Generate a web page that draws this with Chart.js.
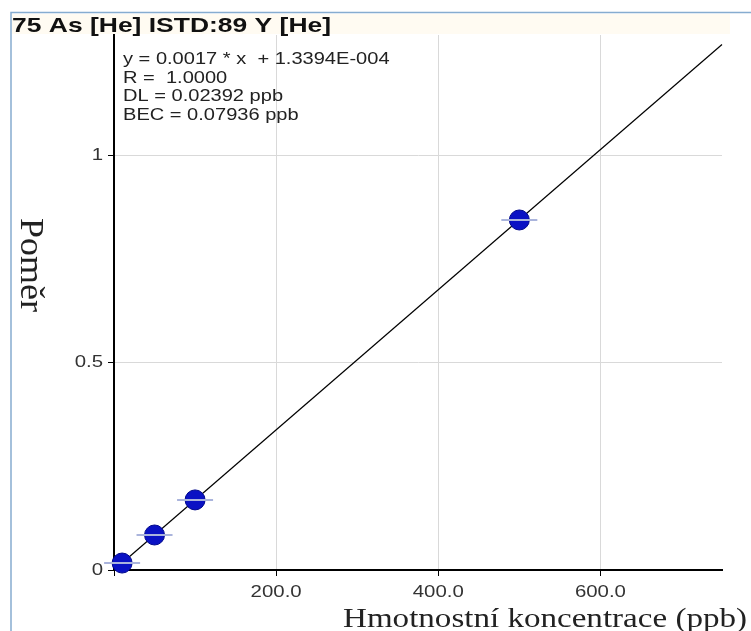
<!DOCTYPE html>
<html>
<head>
<meta charset="utf-8">
<script src="https://cdn.jsdelivr.net/npm/chart.js@4.4.1/dist/chart.umd.min.js"></script>
<style>
  html, body { margin: 0; padding: 0; background: #fff; }
  canvas { display: block; }
</style>
</head>
<body>
<canvas id="calib" width="751" height="631"></canvas>
<script>
// Calibration curve: 75 As, internal standard 89 Y (He mode)
const titleText = '75 As [He] ISTD:89 Y [He]';
const fitLines = [
  'y = 0.0017 * x  + 1.3394E-004',
  'R =  1.0000',
  'DL = 0.02392 ppb',
  'BEC = 0.07936 ppb'
];
const xAxisTitle = 'Hmotnostní koncentrace (ppb)';
const yAxisTitle = 'Poměr';

// calibration standards (ppb) and measured ratios
const concentrations = [10, 50, 100, 500];
const ratios = [0.0168, 0.0844, 0.169, 0.844];

// end points of the regression line
const fitX = [0, 750];
const fitY = [0.0001, 1.267];

// axis ticks and their labels
const xTicks = [0, 200, 400, 600];
const xTickLabels = ['', '200.0', '400.0', '600.0'];
const yTicks = [0, 0.5, 1];
const yTickLabels = ['0', '0.5', '1'];

const SANS = '"Liberation Sans", Arial, sans-serif';
const SERIF = '"Liberation Serif", "Times New Roman", serif';

function drawText(ctx, text, x, y, font, sx, align, baseline, color) {
  ctx.save();
  ctx.font = font;
  ctx.fillStyle = color;
  ctx.textAlign = align;
  ctx.textBaseline = baseline;
  ctx.translate(x, y);
  ctx.scale(sx, 1);
  ctx.fillText(text, 0, 0);
  ctx.restore();
}

function widthFit(ctx, text, font, target) {
  ctx.save();
  ctx.font = font;
  const w = ctx.measureText(text).width;
  ctx.restore();
  return target / w;
}

const framePlugin = {
  id: 'frame',
  beforeDraw(chart) {
    const c = chart.ctx;
    c.save();
    c.fillStyle = '#ffffff';
    c.fillRect(0, 0, chart.width, chart.height);
    // soft header band behind the title
    c.fillStyle = '#fffbf2';
    c.fillRect(12, 14, 718, 20);
    // window frame
    c.strokeStyle = '#86acd0';
    c.lineWidth = 1.5;
    c.beginPath();
    c.moveTo(751, 12.5);
    c.lineTo(11, 12.5);
    c.lineTo(11, 631);
    c.stroke();
    c.restore();
  }
};

const labelPlugin = {
  id: 'labels',
  afterDraw(chart) {
    const c = chart.ctx;
    const xs = chart.scales.x;
    const ys = chart.scales.y;

    // title
    drawText(c, titleText, 12, 26, 'bold 21px ' + SANS, 1.26, 'left', 'middle', '#111');

    // regression summary
    const ly = [59, 78, 96.5, 115];
    fitLines.forEach((t, i) => {
      drawText(c, t, 123, ly[i], '17px ' + SANS, 1.18, 'left', 'middle', '#222');
    });

    // tick labels
    xTicks.forEach((v, i) => {
      drawText(c, xTickLabels[i], xs.getPixelForValue(v), 592, '17px ' + SANS, 1.2, 'center', 'middle', '#333');
    });
    yTicks.forEach((v, i) => {
      drawText(c, yTickLabels[i], 103, ys.getPixelForValue(v), '17px ' + SANS, 1.2, 'right', 'middle', '#333');
    });

    // x axis title
    const xf = '27px ' + SERIF;
    drawText(c, xAxisTitle, 747, 627, xf, widthFit(c, xAxisTitle, xf, 404), 'right', 'alphabetic', '#222');

    // y axis title, reading downwards
    const yf = '34px ' + SERIF;
    const sy = widthFit(c, yAxisTitle, yf, 94);
    c.save();
    c.translate(20.5, 218);
    c.rotate(Math.PI / 2);
    c.scale(sy, 1);
    c.font = yf;
    c.fillStyle = '#222';
    c.textAlign = 'left';
    c.textBaseline = 'alphabetic';
    c.fillText(yAxisTitle, 0, 0);
    c.restore();
  }
};

const points = concentrations.map((x, i) => ({ x: x, y: ratios[i] }));

new Chart(document.getElementById('calib'), {
  type: 'scatter',
  data: {
    datasets: [
      {
        data: fitX.map((x, i) => ({ x: x, y: fitY[i] })),
        showLine: true,
        borderColor: '#000',
        borderWidth: 1.2,
        pointRadius: 0,
        clip: false,
        order: 3
      },
      {
        data: points,
        pointStyle: 'circle',
        pointRadius: 10,
        backgroundColor: '#0a12c4',
        borderColor: '#00088c',
        borderWidth: 1,
        clip: false,
        order: 2
      },
      {
        data: points,
        pointStyle: 'line',
        pointRadius: 18,
        borderColor: '#aab4dc',
        borderWidth: 2,
        clip: false,
        order: 1
      }
    ]
  },
  options: {
    responsive: false,
    animation: false,
    events: [],
    layout: { padding: { top: 35, right: 29, left: 0, bottom: 0 } },
    plugins: { legend: { display: false }, tooltip: { enabled: false } },
    scales: {
      x: {
        type: 'linear',
        min: 0,
        max: 750,
        afterFit(s) { s.height = 61; },
        afterBuildTicks(s) { s.ticks = xTicks.map(v => ({ value: v })); },
        ticks: { display: false },
        grid: {
          color: ctx => (ctx.tick && ctx.tick.value === 0) ? 'rgba(0,0,0,0)' : '#d9d9d9',
          lineWidth: 1,
          tickColor: '#000',
          tickLength: 6
        },
        border: { color: '#000', width: 2 }
      },
      y: {
        type: 'linear',
        min: 0,
        max: 1.29,
        afterFit(s) { s.width = 114; },
        afterBuildTicks(s) { s.ticks = yTicks.map(v => ({ value: v })); },
        ticks: { display: false },
        grid: {
          color: ctx => (ctx.tick && ctx.tick.value === 0) ? 'rgba(0,0,0,0)' : '#d9d9d9',
          lineWidth: 1,
          tickColor: '#000',
          tickLength: 6
        },
        border: { color: '#000', width: 2 }
      }
    }
  },
  plugins: [framePlugin, labelPlugin]
});
</script>
</body>
</html>
